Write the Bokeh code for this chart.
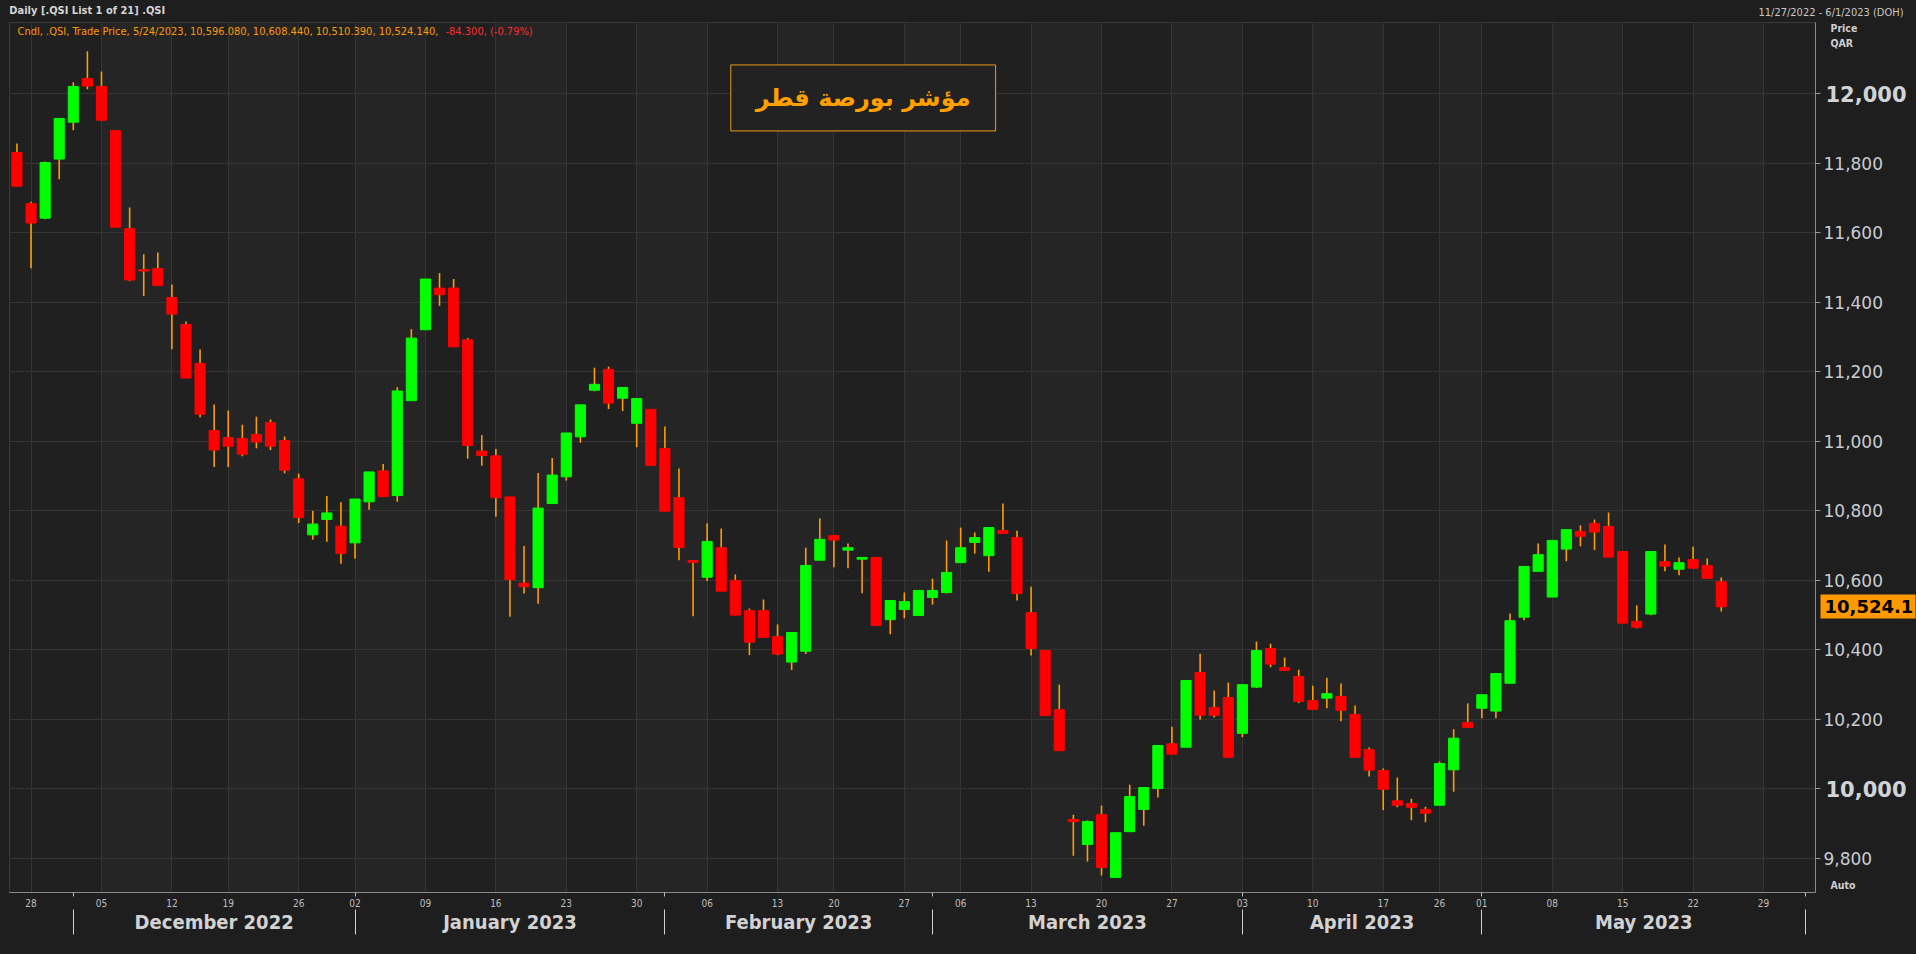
from bokeh.plotting import figure
from bokeh.models import (Range1d, LinearAxis, FixedTicker, Grid, Label, BoxAnnotation, Title,
                          ColumnDataSource, GlobalInlineStyleSheet)
from bokeh.embed import file_html
from bokeh.resources import INLINE

# ---------------- data ----------------
open_ = [11831, 11684, 11642, 11812, 11918, 12044, 12021, 11894, 11612, 11494,
         11497, 11414, 11336, 11224, 11031, 11011, 11008, 11020, 11054, 11002,
         10892, 10731, 10775, 10756, 10708, 10826, 10915, 10844, 11117, 11321,
         11441, 11441, 11292, 10972, 10958, 10840, 10592, 10579, 10821, 10898,
         11013, 11147, 11207, 11124, 11052, 11092, 10979, 10838, 10657, 10609,
         10694, 10600, 10513, 10513, 10438, 10365, 10396, 10658, 10729, 10687,
         10661, 10666, 10487, 10516, 10499, 10551, 10565, 10651, 10709, 10671,
         10743, 10723, 10507, 10398, 10228, 9912, 9840, 9926, 9745, 9877,
         9941, 10001, 10130, 10120, 10335, 10234, 10263, 10160, 10293, 10404,
         10349, 10323, 10254, 10261, 10266, 10214, 10113, 10053, 9966, 9958,
         9941, 9953, 10055, 10191, 10232, 10224, 10304, 10494, 10626, 10552,
         10690, 10741, 10764, 10755, 10683, 10482, 10503, 10654, 10632, 10660,
         10643, 10596.08]
high = [11857, 11689, 11805, 11929, 12033, 12122, 12064, 11894, 11673, 11538,
        11543, 11451, 11345, 11264, 11106, 11089, 11048, 11071, 11063, 11014,
        10907, 10800, 10843, 10825, 10834, 10912, 10935, 11156, 11323, 11467,
        11484, 11467, 11297, 11018, 10978, 10840, 10699, 10909, 10952, 11024,
        11105, 11212, 11215, 11155, 11123, 11092, 11043, 10922, 10657, 10764,
        10749, 10617, 10519, 10545, 10473, 10450, 10694, 10778, 10729, 10706,
        10666, 10666, 10542, 10565, 10571, 10605, 10715, 10752, 10738, 10752,
        10821, 10743, 10582, 10398, 10300, 9926, 9909, 9952, 9874, 10012,
        10004, 10125, 10179, 10312, 10389, 10283, 10306, 10300, 10424, 10418,
        10378, 10343, 10297, 10320, 10303, 10240, 10119, 10059, 10033, 9972,
        9949, 10079, 10172, 10246, 10271, 10332, 10505, 10640, 10706, 10715,
        10746, 10758, 10775, 10795, 10683, 10528, 10683, 10703, 10666, 10697,
        10663, 10608.44]
low = [11734, 11498, 11639, 11754, 11895, 12013, 11924, 11616, 11461, 11418,
       11448, 11265, 11182, 11069, 10926, 10926, 10957, 10980, 10975, 10908,
       10765, 10717, 10711, 10648, 10662, 10803, 10841, 10826, 11117, 11321,
       11390, 11272, 10950, 10930, 10783, 10495, 10562, 10533, 10821, 10887,
       10996, 11144, 11093, 11087, 10983, 10931, 10799, 10658, 10497, 10598,
       10569, 10500, 10385, 10436, 10385, 10342, 10388, 10658, 10638, 10635,
       10563, 10470, 10445, 10491, 10499, 10530, 10562, 10651, 10677, 10625,
       10735, 10542, 10384, 10211, 10110, 9808, 9791, 9751, 9745, 9877,
       9894, 9975, 10100, 10120, 10200, 10206, 10091, 10149, 10290, 10350,
       10341, 10247, 10229, 10232, 10195, 10091, 10036, 9939, 9947, 9910,
       9904, 9953, 9992, 10177, 10203, 10203, 10304, 10485, 10626, 10552,
       10655, 10698, 10687, 10667, 10477, 10462, 10500, 10626, 10615, 10635,
       10606, 10510.39]
close = [11734, 11628, 11802, 11929, 12021, 12022, 11924, 11616, 11464, 11490,
         11448, 11366, 11182, 11078, 10975, 10986, 10963, 10998, 10986, 10917,
         10781, 10762, 10794, 10677, 10834, 10912, 10841, 11145, 11297, 11467,
         11422, 11272, 10988, 10959, 10838, 10602, 10582, 10808, 10903, 11024,
         11105, 11164, 11110, 11155, 11123, 10931, 10799, 10695, 10652, 10712,
         10569, 10500, 10422, 10436, 10388, 10450, 10643, 10718, 10716, 10694,
         10666, 10470, 10542, 10539, 10571, 10571, 10623, 10694, 10723, 10752,
         10735, 10562, 10404, 10211, 10110, 9906, 9906, 9774, 9874, 9978,
         10004, 10125, 10100, 10312, 10212, 10212, 10091, 10300, 10398, 10359,
         10341, 10252, 10229, 10274, 10226, 10091, 10054, 9999, 9953, 9947,
         9930, 10073, 10146, 10177, 10271, 10332, 10484, 10640, 10674, 10715,
         10746, 10727, 10739, 10667, 10477, 10465, 10683, 10641, 10651, 10635,
         10606, 10524.14]

# trading-session index of each weekly tick, and its day label
day_tick_idx = [1, 6, 11, 15, 20, 24, 29, 34, 39, 44, 49, 54, 58, 63,
                67, 72, 77, 82, 87, 92, 97, 101, 104, 109, 114, 119, 124]
day_tick_lbl = ["28", "05", "12", "19", "26", "02", "09", "16", "23", "30", "06", "13", "20", "27",
                "06", "13", "20", "27", "03", "10", "17", "26", "01", "08", "15", "22", "29"]
# session index of the first trading day of each month
month_start_idx = [4, 24, 46, 65, 87, 104, 127]
month_names = ["December 2022", "January 2023", "February 2023", "March 2023", "April 2023", "May 2023"]
price_ticks = [9800, 10000, 10200, 10400, 10600, 10800, 11000, 11200, 11400, 11600, 11800, 12000]
bold_ticks = [10000, 12000]

title_text = "مؤشر بورصة قطر"
header_text = "Daily [.QSI List 1 of 21] .QSI"
range_text = "11/27/2022 - 6/1/2023 (DOH)"
legend_text = "Cndl, .QSI, Trade Price, 5/24/2023, 10,596.080, 10,608.440, 10,510.390, 10,524.140,"
change_text = "-84.300, (-0.79%)"
last_label = "10,524.1"
# price-panel captions and the price levels they sit at
side_caption = {12188: "Price", 12145: "QAR", 9723: "Auto"}
header_pos = 4.99   # session position of the header caption centre

# ---------------- figure ----------------
X0, X1 = -0.53, 127.69
Y0, Y1 = 9702, 12205
p = figure(width=1916, height=954,
           x_range=Range1d(X0, X1), y_range=Range1d(Y0, Y1),
           output_backend="svg", toolbar_location=None,
           x_axis_location=None, y_axis_location=None,
           min_border_left=9, min_border_right=94, min_border_top=22, min_border_bottom=62,
           background_fill_color="#202020", border_fill_color="#1e1e1e",
           outline_line_color="#3a3a3a")
p.stylesheets = [GlobalInlineStyleSheet(css="html,body{background:#1e1e1e;margin:0;overflow:hidden;}")]
for g in p.grid:
    g.visible = False
p.title.visible = False

# top-right caption (nearest the frame in the top panel)
p.add_layout(Title(text=range_text, align="right", offset=-88, standoff=5,
                   vertical_align="middle", text_font="DejaVu Sans Condensed",
                   text_font_size="11px", text_font_style="normal", text_color="#c8c8c8"), "above")
# top-left header caption (outer slot of the top panel)
xax_h = LinearAxis(ticker=FixedTicker(ticks=[header_pos]),
                   major_label_overrides={header_pos: header_text},
                   axis_line_color=None, major_tick_out=0, major_tick_in=0,
                   minor_tick_out=0, minor_tick_in=0,
                   major_label_standoff=-14, major_label_text_font="DejaVu Sans Condensed",
                   major_label_text_font_style="bold",
                   major_label_text_font_size="11px", major_label_text_color="#d4d4d4")
p.add_layout(xax_h, "above")

# alternating weekly bands
for k in range(len(day_tick_idx) - 1):
    if k % 2 == 1:
        p.add_layout(BoxAnnotation(left=day_tick_idx[k], right=day_tick_idx[k + 1],
                                   fill_color="#252525", fill_alpha=1.0,
                                   line_color=None, level="underlay"))

p.add_layout(Grid(dimension=0, ticker=FixedTicker(ticks=day_tick_idx),
                  grid_line_color="#353535", grid_line_width=1))
p.add_layout(Grid(dimension=1, ticker=FixedTicker(ticks=price_ticks),
                  grid_line_color="#353535", grid_line_width=1))

# ---- right side: main price axis (regular labels) ----
yax = LinearAxis(ticker=FixedTicker(ticks=price_ticks),
                 major_label_overrides={t: ("" if t in bold_ticks else f"{t:,}") for t in price_ticks},
                 axis_line_color="#8a8a8a", major_tick_out=5, major_tick_in=0,
                 major_tick_line_color="#9a9a9a", minor_tick_out=0, minor_tick_in=0,
                 major_label_standoff=3, major_label_text_font="DejaVu Sans",
                 major_label_text_font_size="17px", major_label_text_color="#c8ccd2")
p.add_layout(yax, "right")
# bold round-thousand labels (stacked, pulled back over the first axis)
yax_b = LinearAxis(ticker=FixedTicker(ticks=bold_ticks),
                   major_label_overrides={t: f"{t:,}" for t in bold_ticks},
                   axis_line_color=None, major_tick_out=0, major_tick_in=0,
                   minor_tick_out=0, minor_tick_in=0,
                   major_label_standoff=-60, major_label_text_font="DejaVu Sans",
                   major_label_text_font_style="bold",
                   major_label_text_font_size="21px", major_label_text_color="#d0d4d8")
p.add_layout(yax_b, "right")
# last-price tag
yax_t = LinearAxis(ticker=FixedTicker(ticks=[close[-1]]),
                   major_label_overrides={close[-1]: last_label},
                   axis_line_color=None, major_tick_out=6, major_tick_in=89,
                   major_tick_line_color="#ff9900", major_tick_line_width=24,
                   minor_tick_out=0, minor_tick_in=0,
                   major_label_standoff=-91, major_label_text_font="DejaVu Sans",
                   major_label_text_font_style="bold",
                   major_label_text_font_size="18px", major_label_text_color="#000000")
p.add_layout(yax_t, "right")
# Price / QAR / Auto captions
yax_c = LinearAxis(ticker=FixedTicker(ticks=list(side_caption.keys())),
                   major_label_overrides=side_caption,
                   axis_line_color=None, major_tick_out=0, major_tick_in=0,
                   minor_tick_out=0, minor_tick_in=0,
                   major_label_standoff=-86, major_label_text_font="DejaVu Sans Condensed",
                   major_label_text_font_style="bold",
                   major_label_text_font_size="10.5px", major_label_text_color="#cfcfcf")
p.add_layout(yax_c, "right")

# ---- bottom: day axis ----
xax1 = LinearAxis(ticker=FixedTicker(ticks=day_tick_idx, minor_ticks=month_start_idx),
                  major_label_overrides={i: l for i, l in zip(day_tick_idx, day_tick_lbl)},
                  axis_line_color="#8a8a8a", major_tick_out=0, major_tick_in=0,
                  minor_tick_out=4, minor_tick_in=0, minor_tick_line_color="#bbbbbb",
                  major_label_standoff=2, major_label_text_font="DejaVu Sans Condensed",
                  major_label_text_font_size="10px", major_label_text_color="#bdbdbd")
p.add_layout(xax1, "below")

# ---- bottom: month axis ----
month_centers = [(a + b) / 2 for a, b in zip(month_start_idx[:-1], month_start_idx[1:])]
xax2 = LinearAxis(ticker=FixedTicker(ticks=month_centers, minor_ticks=month_start_idx),
                  major_label_overrides={c: m for c, m in zip(month_centers, month_names)},
                  axis_line_color=None, major_tick_out=0, major_tick_in=0,
                  minor_tick_out=25, minor_tick_in=0, minor_tick_line_color="#d0d0d0",
                  major_label_standoff=-25, major_label_text_font="DejaVu Sans Condensed",
                  major_label_text_font_style="bold",
                  major_label_text_font_size="20px", major_label_text_color="#d2d2d2")
p.add_layout(xax2, "below")

# ---------------- candles ----------------
idx = list(range(len(close)))
src = ColumnDataSource(dict(
    x=idx, low=low, high=high,
    top=[max(o, c) for o, c in zip(open_, close)],
    bottom=[min(o, c) for o, c in zip(open_, close)],
    color=["#00ff00" if c >= o else "#ff0000" for o, c in zip(open_, close)],
))
p.segment(x0="x", y0="low", x1="x", y1="high", source=src, line_color="#ff9d00", line_width=1.6)
p.vbar(x="x", width=0.72, top="top", bottom="bottom", fill_color="color",
       line_color="color", line_width=1, source=src)

# ---------------- texts inside the frame ----------------
p.add_layout(Label(x=X0, y=Y1, x_offset=8, y_offset=-9, text=legend_text,
                   text_font="DejaVu Sans Condensed", text_font_size="11px",
                   text_color="#ff9900", text_baseline="middle"))
p.add_layout(Label(x=X0, y=Y1, x_offset=436, y_offset=-9, text=change_text,
                   text_font="DejaVu Sans Condensed", text_font_size="11px",
                   text_color="#ff2a2a", text_baseline="middle"))
p.add_layout(Label(x=60.08, y=11988, text=title_text,
                   text_font="DejaVu Sans", text_font_style="bold", text_font_size="24px",
                   text_color="#ffa000", text_baseline="middle", text_align="center",
                   border_line_color="#e89a1a", border_line_width=1,
                   background_fill_color="#222222", padding=(25, 19)))

open("out.html", "w").write(file_html(p, INLINE))
